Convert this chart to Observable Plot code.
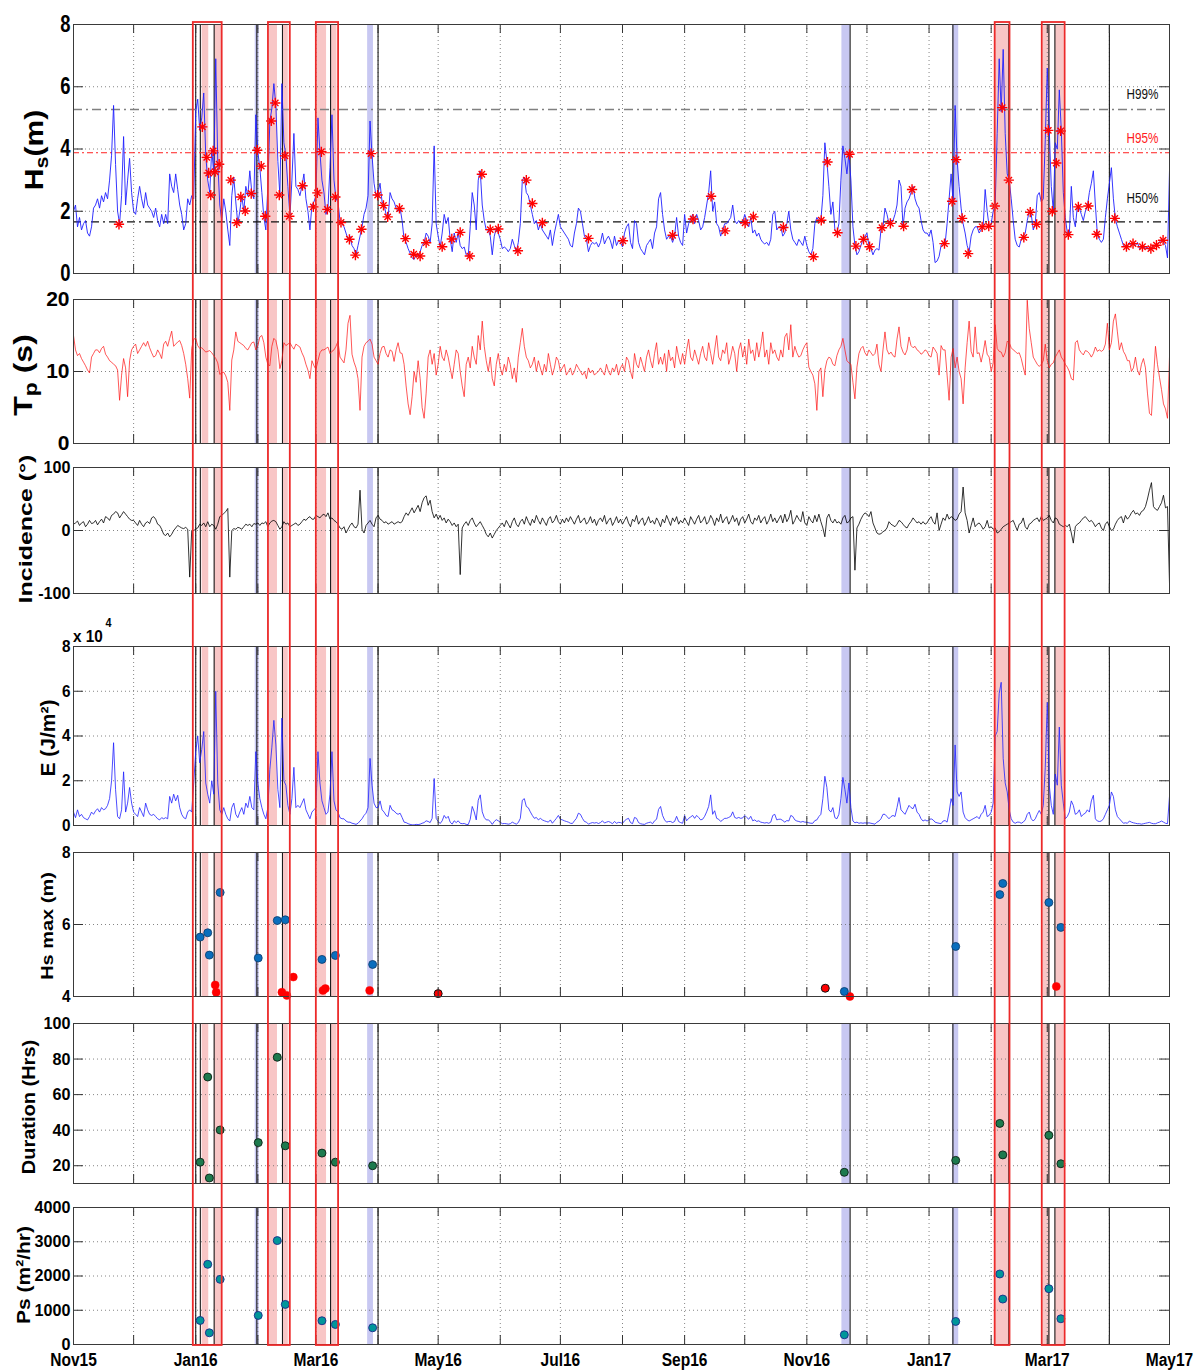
<!DOCTYPE html>
<html><head><meta charset="utf-8">
<script src="https://cdn.jsdelivr.net/npm/d3@7"></script>
<script src="https://cdn.jsdelivr.net/npm/@observablehq/plot@0.6"></script>
<style>
body{margin:0;background:#fff;}
#root{position:relative;width:1196px;height:1371px;overflow:hidden;background:#fff;}
#root svg{position:absolute;left:0;overflow:visible;}
</style></head><body><div id="root"></div>
<script>
// ---------------- DATA (daily samples, day 0 = 1 Nov 2015) ----------------
const hsDaily = [
2.0,2.2,1.5,1.8,1.4,1.6,1.7,1.3,1.2,1.5,
2.1,2.2,2.4,2.1,2.5,2.3,2.6,2.4,3.0,3.8,
5.4,3.5,2.0,1.6,2.5,4.4,2.2,3.0,3.7,2.6,
2.0,1.9,2.4,2.8,2.4,2.1,2.6,2.2,2.1,2.0,
1.8,2.1,1.7,1.5,1.9,1.6,1.9,1.6,3.2,2.8,
2.6,3.2,2.7,2.2,1.9,1.4,1.6,2.4,2.2,2.5,
2.4,5.2,5.6,4.6,5.0,5.8,3.8,3.0,2.6,4.0,
3.2,6.9,3.6,2.2,1.7,2.4,2.0,1.4,0.9,2.5,
3.1,2.3,1.6,2.0,2.5,2.0,2.8,2.5,3.3,2.6,
2.4,5.1,3.9,3.4,2.6,1.8,1.4,2.8,4.9,5.3,
6.1,5.4,3.6,2.5,6.1,4.2,3.8,2.8,1.8,3.0,
4.5,2.8,2.7,2.5,2.8,3.2,2.4,2.0,1.4,2.2,
2.3,2.5,5.0,3.9,3.0,2.6,1.9,2.1,3.4,5.1,
3.0,2.4,2.3,1.7,1.6,1.5,1.3,1.1,1.2,0.9,
0.8,0.6,0.9,1.2,1.5,1.9,2.1,2.5,4.9,3.8,
2.9,2.5,2.6,2.9,2.3,2.2,1.9,1.8,2.6,2.4,
2.3,2.1,2.0,2.1,1.7,1.1,1.0,0.8,0.65,0.5,
0.45,0.6,0.55,0.7,0.9,1.0,1.3,1.2,1.0,1.6,
4.1,1.6,1.2,0.85,1.3,1.9,1.6,1.8,1.1,0.7,
1.3,1.0,1.3,0.9,0.8,0.85,0.6,0.55,1.5,2.6,
2.2,1.4,3.0,3.3,2.2,1.7,1.4,1.4,1.2,0.6,
1.2,1.45,1.3,1.1,0.8,0.85,0.8,0.7,0.8,1.1,
0.9,0.7,1.0,1.6,3.0,3.1,2.6,2.5,2.2,1.9,
1.6,1.7,1.4,1.6,1.4,1.3,1.2,1.1,1.4,0.9,
1.3,1.6,1.9,1.5,1.4,1.3,1.2,1.1,0.9,0.85,
1.3,1.6,2.1,2.0,1.6,1.2,1.1,0.7,0.9,1.0,
0.95,1.0,0.85,1.0,1.3,0.95,1.1,1.2,1.05,0.8,
1.2,0.9,1.05,1.0,0.85,1.3,1.5,1.6,1.0,0.8,
1.7,1.6,1.0,0.8,0.7,0.6,0.9,1.0,1.1,0.8,
1.3,1.5,2.4,2.6,1.9,1.4,1.1,1.2,1.2,1.0,
1.2,1.8,1.2,1.0,0.9,1.9,1.3,1.6,1.75,1.9,
1.6,1.9,1.7,1.4,1.5,1.8,2.2,2.6,3.3,2.0,
2.3,1.6,1.5,1.2,1.4,1.6,1.6,1.7,1.8,2.2,
1.7,1.6,1.7,1.6,1.65,1.9,1.7,1.5,1.8,1.3,
1.4,1.2,1.3,1.1,1.0,0.95,1.0,0.9,1.1,1.9,
2.0,1.4,1.5,1.5,1.2,1.3,1.6,2.0,1.4,1.1,
1.0,0.9,1.1,1.0,0.9,1.2,0.9,0.7,0.6,0.8,
1.6,1.8,1.7,1.7,2.5,4.2,3.6,2.8,1.9,2.3,
1.4,1.3,1.6,3.0,4.1,3.7,3.2,3.85,3.0,1.5,
0.9,0.6,0.7,0.9,1.1,1.2,1.3,0.9,0.8,0.6,
0.75,0.8,0.75,1.4,1.5,2.1,1.9,1.6,1.7,1.7,
1.9,2.2,3.0,2.8,1.5,2.1,2.3,2.4,2.6,2.8,
2.4,2.2,2.1,1.7,1.4,1.3,1.3,1.2,1.4,1.0,
0.35,0.4,0.55,0.9,1.0,0.95,1.6,2.4,3.2,2.3,
5.4,3.65,2.8,2.1,1.6,1.3,0.9,0.7,1.2,1.4,
1.5,1.5,1.3,1.4,1.5,2.7,2.0,1.5,1.6,2.0,
2.2,4.5,6.9,5.2,7.2,4.5,3.2,3.0,2.4,1.7,
1.1,0.9,0.85,1.1,1.2,1.3,1.7,2.0,1.9,1.4,
1.6,2.5,2.6,2.3,2.4,4.3,6.6,4.6,2.8,2.0,
4.2,4.0,5.9,4.6,2.6,1.8,1.3,1.25,2.8,1.8,
1.5,2.15,2.1,1.9,1.7,2.0,2.15,2.6,2.9,3.3,
2.2,1.25,1.1,1.0,1.1,1.8,2.4,2.9,3.4,2.4,
1.75,1.5,1.3,1.1,0.9,0.85,0.9,1.0,0.9,0.95,
0.9,1.0,0.8,0.85,0.9,0.8,0.85,0.75,0.8,0.9,
0.9,0.95,1.0,1.1,1.0,0.9,0.5,3.3];

const tpDaily = [
15.0,13.0,12.2,12.5,11.8,11.3,10.8,10.2,9.8,12.0,
12.5,13.0,13.0,12.6,13.2,13.5,12.4,12.0,11.5,11.3,
11.0,10.8,10.2,6.0,9.5,11.8,10.5,6.5,11.5,13.0,
13.5,13.8,12.5,13.0,13.5,14.0,13.5,14.2,13.3,12.6,
12.0,12.2,13.0,12.5,11.8,13.8,14.2,13.5,14.6,15.6,
13.5,13.8,14.1,14.3,13.6,12.5,11.0,9.0,6.3,13.2,
14.5,14.6,13.6,13.2,13.3,13.0,12.7,12.8,12.9,12.6,
12.2,11.8,11.2,9.6,9.8,9.9,9.4,8.5,4.6,11.6,
13.0,15.5,14.2,14.0,13.8,13.6,13.2,13.0,13.5,14.0,
14.1,13.0,13.6,14.8,15.0,14.0,12.0,11.0,10.8,13.5,
14.6,14.3,13.0,10.4,11.5,14.0,13.6,13.8,14.0,13.5,
13.1,13.8,13.6,13.4,12.6,12.0,11.0,10.2,9.0,11.5,
10.8,10.3,11.5,12.6,13.0,13.0,13.2,13.4,12.5,12.8,
13.0,13.5,14.2,12.0,11.6,11.2,13.0,16.7,17.8,12.4,
11.3,10.5,9.0,4.6,12.0,13.5,14.0,14.2,14.5,13.8,
12.0,11.5,11.0,12.5,13.4,13.5,12.5,12.0,13.0,12.8,
11.4,13.0,14.0,12.6,
12.5,11.0,8.0,5.5,4.0,6.5,10.0,8.5,11.5,9.0,
5.0,3.5,7.0,12.0,13.0,11.0,12.5,9.5,11.0,13.5,
12.0,11.5,13.0,12.0,10.5,9.0,11.0,13.0,12.5,10.0,
8.0,6.5,11.0,12.0,10.5,13.5,12.0,11.0,15.0,13.0,
17.0,13.5,11.5,10.0,12.0,9.0,8.0,11.0,12.5,10.5,
9.5,11.0,10.0,12.0,11.0,9.0,10.5,8.5,12.0,14.0,
16.0,13.5,12.0,11.5,10.5,11.0,12.0,10.0,11.5,10.5,
9.5,11.0,10.0,12.5,11.0,9.5,10.5,12.0,11.5,10.0,
10.5,11.0,9.5,10.0,10.5,9.5,10.0,11.0,10.5,10.0,
9.5,10.0,9.0,10.5,9.8,10.2,9.5,9.8,10.0,10.5,
10.0,9.5,11.0,10.0,9.5,10.5,10.0,11.0,9.5,10.5,
11.0,10.0,12.0,11.5,10.0,9.0,12.5,11.0,10.5,12.0,
11.0,10.0,12.0,13.0,11.5,10.5,12.5,14.0,11.0,12.0,
11.0,12.5,10.0,13.0,11.5,12.0,10.5,13.5,12.0,11.0,
12.5,11.0,13.0,14.5,12.0,11.5,13.0,12.0,11.0,12.5,
13.5,12.0,11.5,14.0,12.5,11.0,13.0,15.0,12.0,11.5,
13.0,12.5,14.0,11.0,12.0,13.5,12.5,10.0,13.0,14.0,
12.0,13.5,11.0,14.5,12.5,13.0,11.5,14.0,12.0,13.5,
15.5,12.0,13.0,11.0,14.0,12.5,13.0,12.0,11.5,13.0,
12.0,14.8,15.3,13.0,16.5,12.0,
13.5,12.6,12.0,12.2,13.0,13.6,14.0,10.6,10.0,9.5,
8.3,4.6,10.0,10.5,6.5,10.2,11.5,12.0,11.8,11.0,
10.8,12.2,13.0,13.5,14.6,13.0,11.5,11.2,11.0,8.5,
6.2,10.6,12.5,13.2,13.5,12.6,12.2,13.0,12.6,12.2,
12.5,13.8,11.0,10.0,13.0,15.5,13.0,12.4,12.7,12.2,
12.0,14.5,16.2,13.5,12.7,12.3,13.0,14.8,13.6,13.3,
13.5,13.0,12.8,12.4,12.6,13.0,12.8,12.2,12.0,13.4,
13.0,12.5,9.5,13.6,13.0,13.0,9.5,6.0,12.0,13.2,
10.5,12.0,10.0,9.0,5.5,10.5,14.0,17.0,12.8,12.0,
16.2,12.5,12.6,11.3,12.6,14.3,12.4,12.0,10.0,11.2,
16.5,13.2,12.8,12.7,12.0,12.6,14.2,14.0,13.3,13.0,
12.8,12.5,12.6,11.8,10.6,9.5,19.9,16.0,14.0,12.0,
11.5,11.0,10.7,11.0,11.5,13.8,11.5,10.5,11.0,11.2,
12.0,12.5,13.0,12.0,11.6,11.0,10.6,10.0,9.0,8.8,
14.0,14.3,13.0,12.6,12.3,12.9,12.8,12.5,12.0,12.5,
13.4,12.8,13.0,12.8,13.0,13.8,16.7,13.0,14.0,17.0,
18.0,15.5,13.0,14.0,12.8,12.3,11.5,11.5,10.0,10.5,
12.0,10.2,9.5,11.0,11.8,10.5,7.0,4.2,3.9,9.0,
13.5,11.0,9.2,7.5,5.5,4.8,3.5,12.0];

const incDaily = [
10,12,15,8,12,14,6,10,16,11,
12,16,9,14,18,12,22,20,16,24,
26,30,28,20,25,30,26,22,18,16,
16,12,8,16,10,6,12,14,11,20,
22,18,10,8,2,-6,-8,-4,-10,-6,
0,4,8,6,4,3,5,2,-74,0,
0,2,4,10,8,12,6,14,6,10,
8,2,10,22,24,27,30,35,-74,0,
3,2,5,4,2,6,10,8,10,6,
11,10,12,8,12,11,14,6,12,15,
16,14,8,2,6,14,10,12,6,8,
10,12,8,10,14,18,16,20,22,18,
18,24,22,20,24,26,22,28,18,20,
16,14,10,4,2,6,-4,2,8,12,
6,4,10,64,2,-4,8,12,16,10,
6,20,24,18,16,12,14,10,12,14,
10,12,14,12,
14,22,28,24,30,36,28,34,40,30,
44,52,55,40,48,30,20,26,18,24,
16,20,12,18,14,8,12,6,10,-70,
4,10,14,8,16,20,12,6,10,14,
8,2,-6,-10,-4,-12,-6,0,4,8,
12,6,16,10,4,14,20,10,6,14,
18,10,22,14,8,18,12,24,16,10,
20,14,8,18,22,12,16,24,14,10,
18,12,20,14,22,16,10,18,24,12,
16,20,10,14,22,12,18,8,16,20,
14,24,10,16,20,8,14,22,12,18,
10,16,22,12,6,18,14,24,10,16,
20,8,14,22,12,16,10,20,14,6,
18,12,24,16,8,20,14,22,10,16,
12,20,14,8,22,16,10,18,24,12,
16,22,10,14,24,18,8,20,14,26,
12,18,22,10,16,24,14,20,8,18,
22,12,18,26,14,10,20,16,24,12,
18,22,10,16,26,14,20,12,18,24,
12,26,14,20,32,10,
16,24,18,14,30,12,8,22,16,12,
24,14,26,14,4,-10,20,26,16,12,
18,12,14,10,20,24,12,14,20,22,
-63,4,10,18,24,28,26,22,30,12,
4,-4,-6,-5,-2,0,4,14,10,8,
6,10,16,14,10,6,4,10,14,20,
16,12,14,10,14,10,12,18,22,14,
10,28,0,10,20,16,26,18,22,20,
16,18,26,30,69,28,16,-4,8,20,
6,10,12,8,2,6,16,4,6,2,
4,-4,-2,2,6,8,10,12,14,16,
8,0,10,12,20,6,2,10,12,16,
18,20,14,22,16,18,20,24,16,12,
20,18,10,8,6,8,6,10,-4,-20,
6,10,12,16,20,22,18,14,16,12,
6,10,12,4,0,10,14,6,0,2,
10,16,20,22,12,24,18,22,28,32,
26,28,24,30,32,38,50,64,76,38,
34,32,38,44,56,36,38,-84];

// E in units of 1e4 J/m^2
const eDaily = [
0.6,0.35,0.7,0.4,0.5,0.35,0.3,0.25,0.4,0.6,
0.5,0.65,0.75,0.6,0.8,0.7,0.75,0.9,1.2,2.0,
3.7,1.6,0.4,0.3,0.7,2.4,0.6,1.0,1.7,1.0,
0.6,0.5,0.4,0.8,0.6,0.4,1.0,0.7,0.5,0.45,
0.5,0.4,0.3,0.25,0.35,0.3,0.35,0.3,1.3,1.0,
1.4,1.1,1.35,0.8,0.5,0.35,0.3,0.6,0.7,0.6,
1.9,3.3,4.0,2.8,3.4,4.2,1.9,1.4,1.0,2.0,
1.4,6.0,1.9,0.7,0.5,0.8,0.5,0.3,0.2,0.8,
1.0,0.5,0.35,0.6,0.8,0.5,1.0,0.8,1.3,0.8,
0.7,3.3,1.9,1.2,0.8,0.5,0.3,0.8,2.5,3.5,
4.7,3.6,1.6,0.8,4.8,2.0,1.8,0.9,0.5,1.2,
2.6,0.8,0.9,0.8,1.0,1.2,0.7,0.5,0.3,0.6,
0.7,0.8,3.3,1.9,1.1,0.8,0.5,0.6,1.4,3.3,
1.1,0.7,0.6,0.35,0.3,0.3,0.2,0.15,0.15,0.1,
0.08,0.05,0.1,0.2,0.3,0.45,0.55,0.8,3.0,1.8,
1.0,0.8,0.8,1.1,0.7,0.6,0.45,0.4,0.9,0.7,
0.65,0.55,0.5,0.55,
0.36,0.15,0.13,0.08,0.05,0.03,0.03,0.05,0.04,0.06,
0.1,0.13,0.21,0.18,0.13,0.32,2.1,0.32,0.18,0.09,
0.21,0.45,0.32,0.41,0.15,0.06,0.21,0.13,0.21,0.1,
0.08,0.09,0.05,0.04,0.28,0.85,0.61,0.25,1.13,1.37,
0.61,0.36,0.25,0.25,0.18,0.05,0.18,0.26,0.21,0.15,
0.08,0.09,0.08,0.06,0.08,0.15,0.1,0.06,0.13,0.32,
1.13,1.2,0.85,0.79,0.61,0.45,0.32,0.36,0.25,0.32,
0.25,0.21,0.18,0.15,0.25,0.1,0.21,0.32,0.45,0.28,
0.25,0.21,0.18,0.15,0.1,0.09,0.21,0.32,0.55,0.5,
0.32,0.18,0.15,0.06,0.1,0.13,0.11,0.13,0.09,0.13,
0.21,0.11,0.15,0.18,0.14,0.08,0.18,0.1,0.14,0.13,
0.09,0.21,0.28,0.32,0.13,0.08,0.36,0.32,0.13,0.08,
0.06,0.05,0.1,0.13,0.15,0.08,0.21,0.28,0.72,0.85,
0.45,0.25,0.15,0.18,0.18,0.13,0.18,0.41,0.18,0.13,
0.1,0.45,0.21,0.32,0.38,0.45,0.32,0.45,0.36,0.25,
0.28,0.41,0.61,0.85,1.37,0.5,0.66,0.32,0.28,0.18,
0.25,0.32,0.32,0.36,0.41,0.61,0.36,0.32,0.36,0.32,
0.34,0.45,0.36,0.28,0.41,0.21,0.25,0.18,0.21,0.15,
0.13,0.11,0.13,0.1,0.15,0.45,0.5,0.25,0.28,0.28,
0.22,0.15,0.22,0.2,0.45,0.4,
0.25,0.2,0.18,0.15,0.18,0.15,0.15,0.12,0.1,0.1,
0.22,0.25,0.4,0.5,1.2,2.2,1.7,0.7,0.6,0.8,
0.35,0.3,0.5,1.2,2.15,1.6,1.0,1.9,0.8,0.2,
0.12,0.15,0.1,0.12,0.1,0.12,0.1,0.12,0.1,0.08,
0.06,0.15,0.2,0.3,0.5,0.5,0.4,0.3,0.4,0.45,
0.4,0.8,1.25,0.7,0.6,0.5,0.7,0.9,0.8,0.75,
0.95,0.6,0.5,0.3,0.2,0.25,0.2,0.25,0.3,0.25,
0.15,0.12,0.1,0.08,0.2,0.22,0.15,0.6,1.2,0.9,
3.6,1.5,1.3,1.5,0.6,0.35,0.25,0.2,0.25,0.3,
0.35,0.4,0.3,0.5,0.6,0.9,0.4,0.45,0.6,1.0,
4.0,4.2,5.9,6.4,3.0,1.9,1.5,0.7,0.3,0.15,
0.1,0.15,0.15,0.1,0.15,0.25,0.5,0.6,0.3,0.2,
0.3,0.5,0.67,0.5,0.9,2.6,5.5,1.8,0.9,0.5,
2.3,1.8,4.4,1.8,1.0,0.3,0.4,0.6,1.1,0.9,
0.5,0.55,0.7,0.4,0.5,0.55,0.7,0.6,1.1,1.35,
0.3,0.2,0.18,0.2,0.3,0.5,0.7,0.9,1.5,1.3,
0.7,0.4,0.3,0.2,0.1,0.12,0.1,0.2,0.15,0.12,
0.1,0.08,0.08,0.06,0.08,0.1,0.12,0.14,0.1,0.08,
0.08,0.12,0.15,0.2,0.15,0.1,0.08,1.3];

// red asterisks on Hs (day, Hs)
const starDay = [22.7,64.3,66.5,67.5,68.5,69.7,70.7,72.7,78.5,81.5,83.5,85.7,88.7,91.7,93.7,95.7,98.7,100.7,102.7,105.5,107.7,114.3,119.7,121.7,123.7,126.7,130.7,133.5,137.7,140.7,143.7,148.5,151.8,154.7,156.8,162.7,165.7,169.8,173.0,176.0,184.0,188.8,193.0,197.8,203.8,208.0,212.0,221.8,226.0,229.0,234.0,257.0,274.2,299.0,309.2,318.2,325.2,335.2,339.3,354.3,369.3,373.2,376.3,381.3,387.3,390.5,394.3,397.3,403.5,407.7,414.3,418.5,434.7,438.5,440.5,443.5,446.5,453.5,456.8,459.8,463.5,466.8,474.3,477.5,480.7,486.5,488.5,490.5,492.7,496.5,501.5,506.5,510.7,519.7,525.5,528.8,533.5,537.7,540.5,543.8];
const starHs = [1.58,4.71,3.73,3.23,2.52,3.94,3.27,3.51,3.0,1.63,2.46,2.01,2.57,3.96,3.45,1.84,4.9,5.48,2.52,3.78,1.84,2.82,2.14,2.59,3.91,2.06,2.46,1.64,1.1,0.59,1.42,3.85,2.52,2.19,1.82,2.09,1.12,0.62,0.56,0.99,0.86,1.11,1.32,0.56,3.19,1.41,1.43,0.73,3.0,2.25,1.63,1.13,1.05,1.23,1.75,2.48,1.37,1.63,1.82,1.48,0.54,1.71,3.58,1.31,3.83,0.88,1.1,0.86,1.47,1.61,1.52,2.7,0.96,2.32,3.66,1.77,0.64,1.5,1.52,2.17,5.33,3.0,1.16,1.97,1.58,4.6,2.0,3.55,4.58,1.25,2.14,2.17,1.26,1.77,0.86,0.96,0.86,0.8,0.91,1.07];

// threshold lines
const thresholdNames = ["H99%","H95%","H50%"];
const thresholdHs = [5.27,3.88,1.66];

// storm events
const eventDay = [63.2,67.0,67.8,73.2,92.2,101.7,105.7,124.0,130.7,149.3,384.7,440.3,462.3,463.8,486.8,492.8];
const eventHsMax = [5.65,5.77,5.15,6.89,5.07,6.11,6.13,5.03,5.14,4.89,4.14,5.39,6.83,7.14,6.61,5.92];
const eventDuration = [22,69.9,13.1,40.1,33,81,31.2,27.1,22,20,16.3,23,43.8,26.1,37.1,21.1];
const eventPs = [702,2341,341,1902,849,3034,1171,693,585,488,283,673,2059,1327,1629,751];
const minorDay = [70.7,71.2,104.0,106.5,109.7,124.5,125.7,147.8,387.5,490.5];
const minorHsMax = [4.32,4.12,4.12,4.03,4.54,4.17,4.22,4.17,4.0,4.28];
const isolatedDay = [182,375.2];
const isolatedHsMax = [4.08,4.23];

// shaded periods (day ranges)
const redStart = [64.2,70.3,97.7,104.3,121.8,128.5,460.0,484.0,490.0];
const redEnd   = [67.5,73.8,101.8,107.2,126.3,131.5,466.8,487.5,494.4];
const blueStart = [90.7,146.8,383.5,438.8];
const blueEnd   = [92.7,149.7,387.7,441.8];
const blackLineDay = [61.0,63.3,70.2,91.5,104.3,128.3,152.0,387.6,438.9,466.8,486.8,489.8,517.0];
const boxStart = [59.8,97.3,121.2,460.0,483.5];
const boxEnd   = [74.2,108.2,132.3,467.4,494.9];

// ---------------- BUILD ----------------
const DAY0 = Date.UTC(2015, 10, 1);
const t = d => new Date(DAY0 + d * 864e5);
const series = vals => vals.map((v, i) => ({date: t(i), v}));
const pts = (days, vals) => days.map((d, i) => ({date: t(d), v: vals[i]}));
const ranges = (s, e) => s.map((d, i) => ({s: t(d), e: t(e[i])}));

const W = 1196, ML = 73, MR = 27;
const xDomain = [t(0), t(547)];
const months = d3.utcMonth.range(t(0), t(548));
const labelMonths = months.filter((m, i) => i % 2 === 0);
const REG = "'Liberation Sans', Arial, Helvetica, sans-serif";
const RED_SHADE = "#f8c6c6", BLUE_SHADE = "#c8c8f2", GRID = "#666";

const redBands = ranges(redStart, redEnd);
const blueBands = ranges(blueStart, blueEnd);
const blackLines = blackLineDay.map(t);
const boxes = ranges(boxStart, boxEnd);

const root = document.getElementById("root");

function squeeze(svg, selector, k) {
  svg.querySelectorAll(selector).forEach(el => {
    const tr = el.getAttribute("transform") || "";
    el.setAttribute("transform", (tr + ` scale(${k},1)`).trim());
  });
}

function panel(cfg) {
  const mt = 2, mb = cfg.xAxis ? 27 : 2;
  const hpx = cfg.bottom - cfg.top;
  const [lo, hi] = cfg.domain;
  const dy = (hi - lo) * 9 / hpx;
  const marks = [
    Plot.rect(redBands, {x1: "s", x2: "e", y1: lo, y2: hi, fill: RED_SHADE}),
    Plot.rect(blueBands, {x1: "s", x2: "e", y1: lo, y2: hi, fill: BLUE_SHADE}),
    Plot.ruleX(months, {stroke: GRID, strokeDasharray: "1,3", strokeWidth: 0.8}),
    Plot.ruleY(cfg.ticks, {stroke: GRID, strokeDasharray: "1,3", strokeWidth: 0.8}),
    Plot.ruleX(blackLines, {stroke: "#1a1a1a", strokeWidth: 1.1}),
    ...cfg.marks,
    Plot.ruleX(months, {y1: lo, y2: lo + dy, stroke: "#333"}),
    Plot.ruleX(months, {y1: hi - dy, y2: hi, stroke: "#333"}),
    Plot.ruleY(cfg.ticks, {x1: t(0), x2: t(5), stroke: "#333"}),
    Plot.ruleY(cfg.ticks, {x1: t(542), x2: t(547), stroke: "#333"}),
    Plot.frame({stroke: "#3a3a3a", strokeWidth: 1}),
    Plot.axisY({ticks: cfg.ticks, tickSize: 0, tickPadding: cfg.pad, fontSize: cfg.fs, fontWeight: "bold",
      fontFamily: REG, label: null, tickFormat: d => String(d)})
  ];
  if (cfg.xAxis) marks.push(Plot.axisX({ticks: labelMonths, tickFormat: d3.utcFormat("%b%y"), tickSize: 0,
    tickPadding: 8, fontSize: 18.5, fontWeight: "bold", fontFamily: REG, label: null}));
  const svg = Plot.plot({
    width: W, height: hpx + mt + mb, marginLeft: ML, marginRight: MR, marginTop: mt, marginBottom: mb,
    x: cfg.xAxis ? {type: "utc", domain: xDomain} : {type: "utc", domain: xDomain, axis: null},
    y: {domain: cfg.domain},
    style: {background: "transparent", overflow: "visible", color: "#000"},
    marks
  });
  squeeze(svg, 'g[aria-label="y-axis tick label"] text', cfg.k);
  squeeze(svg, 'g[aria-label="x-axis tick label"] text', 0.84);
  if (cfg.after) cfg.after(svg);
  svg.style.top = (cfg.top - mt) + "px";
  root.appendChild(svg);
}

const hsSeries = series(hsDaily);
const stars = pts(starDay, starHs);
const thresholds = thresholdNames.map((n, i) => ({n, v: thresholdHs[i]}));

panel({top: 24, bottom: 273, domain: [0, 8], ticks: [0, 2, 4, 6, 8], fs: 23, pad: 3, k: 0.8, marks: [
  Plot.ruleY(thresholds.slice(0, 1), {y: "v", stroke: "#808080", strokeWidth: 1.5, strokeDasharray: "9,4,2,4"}),
  Plot.ruleY(thresholds.slice(1, 2), {y: "v", stroke: "#ff2020", strokeWidth: 1, strokeDasharray: "6,3,2,3"}),
  Plot.ruleY(thresholds.slice(2, 3), {y: "v", stroke: "#111", strokeWidth: 1.2, strokeDasharray: "8,4,2,4"}),
  Plot.line(hsSeries, {x: "date", y: "v", stroke: "#1f1fff", strokeWidth: 0.9}),
  Plot.dot(stars, {x: "date", y: "v", symbol: "plus", r: 3.4, stroke: "#ff0000", strokeWidth: 1.4}),
  Plot.dot(stars, {x: "date", y: "v", symbol: "times", r: 3.0, stroke: "#ff0000", strokeWidth: 1.4}),
  Plot.text(thresholds.slice(0, 2), {x: t(533.5), y: "v", dy: -15, text: "n", fontSize: 15, fontFamily: REG,
    fill: (d) => d.n === "H95%" ? "#ff2020" : "#111"}),
  Plot.text(thresholds.slice(2, 3), {x: t(533.5), y: "v", dy: -24, text: "n", fontSize: 15, fontFamily: REG, fill: "#111"})
], after: svg => squeeze(svg, 'g[aria-label="text"] text', 0.78)});

panel({top: 299, bottom: 443, domain: [0, 20], ticks: [0, 10, 20], fs: 21, pad: 4, k: 1, marks: [
  Plot.line(series(tpDaily), {x: "date", y: "v", stroke: "#ff1010", strokeWidth: 0.7})
]});

panel({top: 467, bottom: 593, domain: [-100, 100], ticks: [-100, 0, 100], fs: 17, pad: 3, k: 0.95, marks: [
  Plot.line(series(incDaily), {x: "date", y: "v", stroke: "#000", strokeWidth: 0.8})
]});

panel({top: 646, bottom: 825, domain: [0, 8], ticks: [0, 2, 4, 6, 8], fs: 17, pad: 3, k: 0.9, marks: [
  Plot.line(series(eDaily), {x: "date", y: "v", stroke: "#1f1fff", strokeWidth: 0.8})
]});

const events = eventDay.map((d, i) => ({date: t(d), hs: eventHsMax[i], dur: eventDuration[i], ps: eventPs[i]}));
panel({top: 852, bottom: 996, domain: [4, 8], ticks: [4, 6, 8], fs: 17, pad: 3, k: 0.9, marks: [
  Plot.dot(pts(minorDay, minorHsMax), {x: "date", y: "v", r: 4, fill: "#ff0000", stroke: "#ff0000", strokeWidth: 0.5}),
  Plot.dot(pts(isolatedDay, isolatedHsMax), {x: "date", y: "v", r: 4, fill: "#ff0000", stroke: "#111", strokeWidth: 1}),
  Plot.dot(events, {x: "date", y: "hs", r: 4, fill: "#0a6ebd", stroke: "#0b3a6a", strokeWidth: 0.8})
]});

panel({top: 1023, bottom: 1183, domain: [10, 100], ticks: [20, 40, 60, 80, 100], fs: 17, pad: 3, k: 0.95, marks: [
  Plot.dot(events, {x: "date", y: "dur", r: 4, fill: "#1d7a4e", stroke: "#0c1f14", strokeWidth: 0.9})
]});

panel({top: 1207, bottom: 1344, domain: [0, 4000], ticks: [0, 1000, 2000, 3000, 4000], fs: 17, pad: 3, k: 0.95, xAxis: true, marks: [
  Plot.dot(events, {x: "date", y: "ps", r: 4, fill: "#00969a", stroke: "#1b2a8a", strokeWidth: 0.9})
]});

// red outline boxes spanning all panels
const ov = Plot.plot({
  width: W, height: 1345 - 22, marginLeft: ML, marginRight: MR, marginTop: 0, marginBottom: 0,
  x: {type: "utc", domain: xDomain, axis: null}, y: {domain: [0, 1], axis: null},
  style: {background: "transparent", overflow: "visible", pointerEvents: "none"},
  marks: [Plot.rect(boxes, {x1: "s", x2: "e", y1: 0, y2: 1, fill: "none", stroke: "#ec2a2a", strokeWidth: 1.8})]
});
ov.style.top = "22px";
root.appendChild(ov);

// axis titles
const lab = d3.select(root).append("svg").attr("width", W).attr("height", 1371).style("top", "0px")
  .style("background", "transparent");
const yTitles = [
  {parts: [["H", 0], ["s", 1], ["(m)", 0]], x: 43, y: 150, size: 30, k: 0.85},
  {parts: [["T", 0], ["p", 1], [" (s)", 0]], x: 32, y: 375, size: 32, k: 0.8},
  {parts: [["Incidence (°)", 0]], x: 32, y: 529, size: 25, k: 0.7},
  {parts: [["E (J/m²)", 0]], x: 55, y: 738, size: 21, k: 0.95},
  {parts: [["Hs max (m)", 0]], x: 53, y: 926, size: 20, k: 0.82},
  {parts: [["Duration (Hrs)", 0]], x: 35, y: 1107, size: 20, k: 0.92},
  {parts: [["Ps (m²/hr)", 0]], x: 30, y: 1275, size: 21, k: 0.9}
];
for (const yt of yTitles) {
  const tx = lab.append("text").attr("transform", `translate(${yt.x},${yt.y}) rotate(-90) scale(1,${yt.k})`)
    .attr("text-anchor", "middle").attr("font-family", REG).attr("font-weight", "bold")
    .attr("font-size", yt.size).attr("fill", "#000");
  let shifted = false;
  for (const [s, sub] of yt.parts) {
    const ts = tx.append("tspan").text(s);
    if (sub) { ts.attr("font-size", yt.size * 0.72).attr("dy", "0.28em"); shifted = true; }
    else if (shifted) { ts.attr("dy", `${-0.28 * 0.72}em`); shifted = false; }
  }
}
const ex = lab.append("text").attr("transform", "translate(73,642) scale(0.9,1)").attr("font-family", REG)
  .attr("font-weight", "bold").attr("font-size", 17).attr("fill", "#000");
ex.append("tspan").text("x 10");
ex.append("tspan").attr("font-size", 12).attr("dx", 3).attr("dy", -15).text("4");
</script></body></html>
